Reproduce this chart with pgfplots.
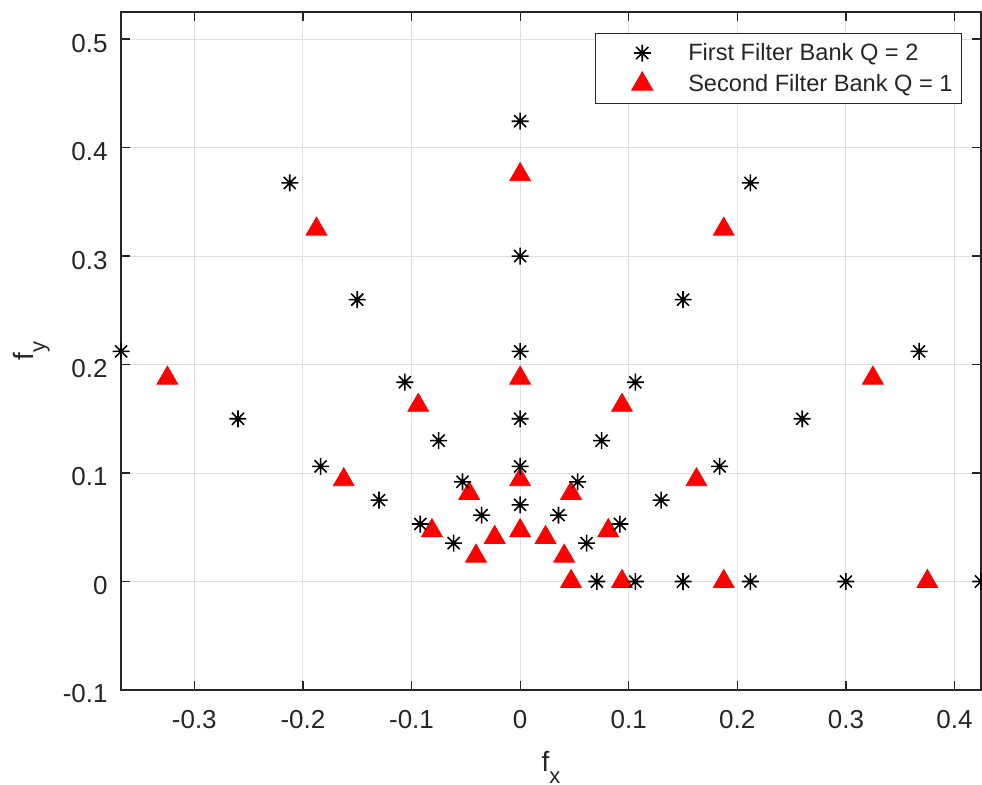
\documentclass[border=0pt]{standalone}
\usepackage{fontspec}
\setmainfont{Liberation Sans}
\usepackage{pgfplots}
\pgfplotsset{compat=1.18}
\definecolor{axgray}{RGB}{38,38,38}
\definecolor{gridgray}{RGB}{223,223,223}
\pgfdeclareplotmark{mstar}{%
  \pgfpathmoveto{\pgfpoint{-\pgfplotmarksize}{0pt}}%
  \pgfpathlineto{\pgfpoint{\pgfplotmarksize}{0pt}}%
  \pgfpathmoveto{\pgfpoint{0pt}{-\pgfplotmarksize}}%
  \pgfpathlineto{\pgfpoint{0pt}{\pgfplotmarksize}}%
  \pgfpathmoveto{\pgfpoint{-0.7071\pgfplotmarksize}{-0.7071\pgfplotmarksize}}%
  \pgfpathlineto{\pgfpoint{0.7071\pgfplotmarksize}{0.7071\pgfplotmarksize}}%
  \pgfpathmoveto{\pgfpoint{-0.7071\pgfplotmarksize}{0.7071\pgfplotmarksize}}%
  \pgfpathlineto{\pgfpoint{0.7071\pgfplotmarksize}{-0.7071\pgfplotmarksize}}%
  \pgfusepathqstroke}
\pgfplotsset{myleg/.style={legend image code/.code={%
  \path[draw=none,fill=none] (-23.5pt,-7.75pt) rectangle (23pt,7.75pt);
  \draw[##1] plot coordinates {(0pt,0pt)};}}}
\begin{document}
\begin{tikzpicture}
\begin{axis}[
  at={(0,0)}, anchor=south west,
  scale only axis, width=430pt, height=339pt,
  xmin=-0.3675, xmax=0.4244, ymin=-0.1, ymax=0.525,
  xtick={-0.3,-0.2,-0.1,0,0.1,0.2,0.3,0.4},
  xticklabels={-0.3,-0.2,-0.1,0,0.1,0.2,0.3,0.4},
  ytick={-0.1,0,0.1,0.2,0.3,0.4,0.5},
  yticklabels={-0.1,0,0.1,0.2,0.3,0.4,0.5},
  tick align=inside, major tick length=4.3pt,
  tick style={axgray, line width=0.6pt},
  axis line style={axgray, line width=0.7pt},
  grid=major, major grid style={gridgray, line width=0.5pt},
  ticklabel style={font=\fontsize{13}{15}\selectfont, text=axgray},
  xticklabel style={anchor=base, yshift=-19.5pt},
  yticklabel style={anchor=east, inner sep=0pt, xshift=-6.5pt, yshift=-2pt},
  xlabel={f\raisebox{-6pt}{\fontsize{11}{11}\selectfont x}},
  ylabel={f\raisebox{-6pt}{\fontsize{11}{11}\selectfont y}},
  label style={font=\fontsize{14}{16}\selectfont, text=axgray},
  xlabel style={at={(axis description cs:0.5,-0.1195)}, anchor=base},
  ylabel style={at={(axis description cs:-0.1023,0.5)}, anchor=base},
  legend style={at={(0.978,0.969)}, anchor=north east, draw=axgray,
    line width=0.5pt, fill=white, inner xsep=0pt, inner ysep=2pt,
    row sep=0pt, column sep=0pt, font=\fontsize{11.8}{14}\selectfont,
    text=axgray, nodes={inner sep=0pt}},
  legend cell align=left,
  reverse legend,
]
\addplot[only marks, mark=triangle*, mark size=6pt, draw=red, fill=red, myleg]
coordinates {
(0.0469,0) (0.0406,0.0234) (0.0234,0.0406) (0,0.0469) (-0.0234,0.0406) (-0.0406,0.0234)
(0.0938,0) (0.0812,0.0469) (0.0469,0.0812) (0,0.0938) (-0.0469,0.0812) (-0.0812,0.0469)
(0.1875,0) (0.1624,0.0938) (0.0938,0.1624) (0,0.1875) (-0.0938,0.1624) (-0.1624,0.0938)
(0.375,0) (0.3248,0.1875) (0.1875,0.3248) (0,0.375) (-0.1875,0.3248) (-0.3248,0.1875)
};
\addlegendentry{Second Filter Bank Q = 1\hspace*{4.5pt}}
\addplot[only marks, mark=mstar, mark size=4.25pt, black, line width=0.8pt, myleg]
coordinates {
(0.0707,0) (0.0612,0.0354) (0.0354,0.0612) (0,0.0707) (-0.0354,0.0612) (-0.0612,0.0354)
(0.1061,0) (0.0919,0.0530) (0.0530,0.0919) (0,0.1061) (-0.0530,0.0919) (-0.0919,0.0530)
(0.15,0) (0.1299,0.075) (0.075,0.1299) (0,0.15) (-0.075,0.1299) (-0.1299,0.075)
(0.2121,0) (0.1837,0.1061) (0.1061,0.1837) (0,0.2121) (-0.1061,0.1837) (-0.1837,0.1061)
(0.3,0) (0.2598,0.15) (0.15,0.2598) (0,0.3) (-0.15,0.2598) (-0.2598,0.15)
(0.4243,0) (0.3674,0.2121) (0.2121,0.3674) (0,0.4243) (-0.2121,0.3674) (-0.3674,0.2121)
};
\addlegendentry{First Filter Bank Q = 2}
\end{axis}
\pgfresetboundingbox
\path (-60.5pt,-47.5pt) rectangle (430.5pt,345pt);
\end{tikzpicture}
\end{document}
